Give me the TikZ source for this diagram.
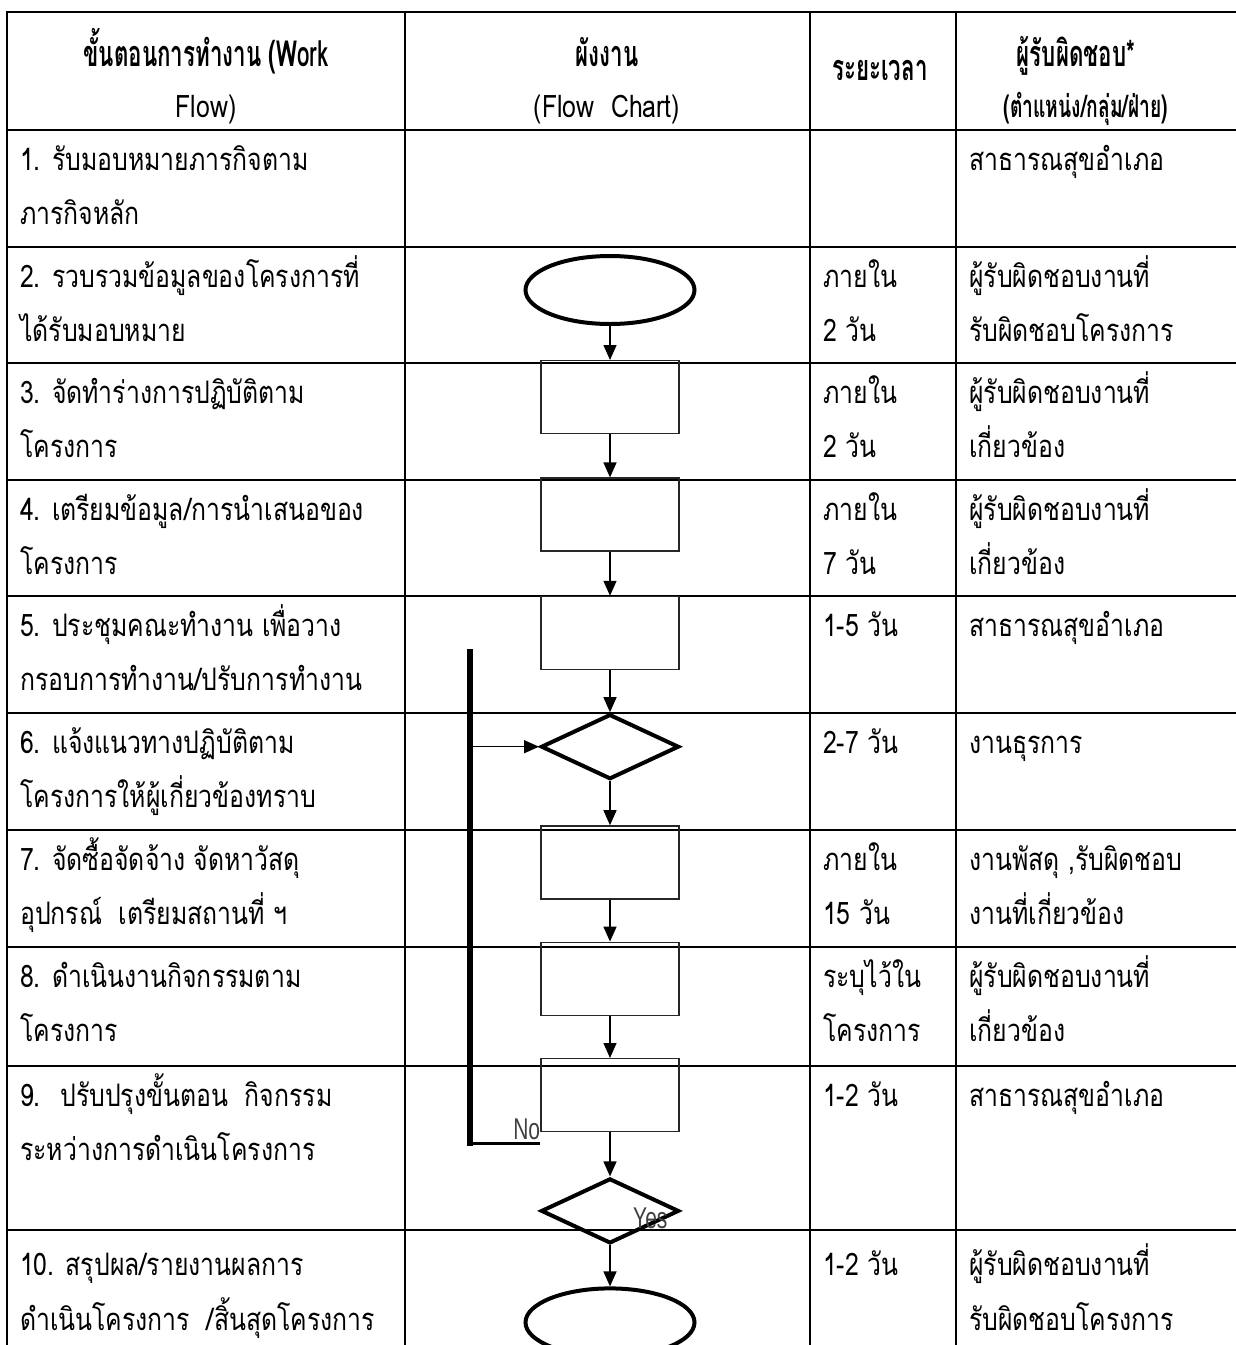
\documentclass[tikz,border=0pt]{standalone}
\usepackage{fontspec}
\newfontfamily\thaifont[Script=Thai,FakeStretch=0.8]{Loma}
\newfontfamily\thaihead[Script=Thai,FakeStretch=0.62]{Loma}
\newfontfamily\narrowsans[FakeStretch=0.7]{Liberation Sans}
\usetikzlibrary{positioning}
\usetikzlibrary{arrows.meta}
\usetikzlibrary{shapes.geometric}

\begin{document}
\begin{tikzpicture}[x=1pt, y=-1pt,
  rule/.style={line width=2.2pt, line cap=rect},
  body/.style={anchor=base west, inner sep=0pt, font=\thaifont\fontsize{31}{36}\selectfont},
  headbold/.style={anchor=base, inner sep=0pt, font=\thaihead\bfseries\fontsize{36}{40}\selectfont},
  headlight/.style={anchor=base, inner sep=0pt, font=\thaifont\fontsize{31}{36}\selectfont},
  flowbox/.style={draw=black!85, line width=1.4pt, minimum width=138pt, minimum height=73pt, inner sep=0pt},
  terminal/.style={ellipse, draw, line width=4pt, minimum width=169pt, minimum height=68pt, inner sep=0pt},
  decision/.style={diamond, draw, line width=4pt, minimum width=138pt, minimum height=65pt, inner sep=0pt},
  flowarrow/.style={line width=1.4pt, -{Triangle[length=15pt,width=13pt]}},
  loopline/.style={line width=5.5pt, line cap=rect},
  ynlabel/.style={inner sep=0pt, text=black!75, font=\narrowsans\fontsize{30}{36}\selectfont}
]
  % page size of the scan
  \useasboundingbox (0,0) rectangle (1236,1345);

  % table rules
  \foreach \y in {12,130,247,363,480,596,713,830,947,1066,1230}
    \draw[rule] (7,\y) -- (1236,\y);
  \foreach \x in {7,405,810,956}
    \draw[rule] (\x,12) -- (\x,1345);

  % header row
  \node[headbold] (h1a) at (206,66) {ขั้นตอนการทำงาน (Work};
  \node[headlight] (h1b) at (206,117) {Flow)};
  \node[headbold] (h2a) at (607,66) {ผังงาน};
  \node[headlight] (h2b) at (607,117) {(Flow~ Chart)};
  \node[headbold] (h3a) at (880,80) {ระยะเวลา};
  \node[headbold] (h4a) at (1076,66) {ผู้รับผิดชอบ*};
  \node[headbold, font=\thaihead\bfseries\fontsize{31}{36}\selectfont] (h4b) at (1086,117) {(ตำแหน่ง/กลุ่ม/ฝ่าย)};

  % column 1: work steps
  \node[body] (w1a) at (20,170) {1. รับมอบหมายภารกิจตาม};
  \node[body] (w1b) at (20,224) {ภารกิจหลัก};
  \node[body] (w2a) at (20,287) {2. รวบรวมข้อมูลของโครงการที่};
  \node[body] (w2b) at (20,341) {ได้รับมอบหมาย};
  \node[body] (w3a) at (20,403) {3. จัดทำร่างการปฏิบัติตาม};
  \node[body] (w3b) at (20,457) {โครงการ};
  \node[body] (w4a) at (20,520) {4. เตรียมข้อมูล/การนำเสนอของ};
  \node[body] (w4b) at (20,574) {โครงการ};
  \node[body] (w5a) at (20,636) {5. ประชุมคณะทำงาน เพื่อวาง};
  \node[body] (w5b) at (20,690) {กรอบการทำงาน/ปรับการทำงาน};
  \node[body] (w6a) at (20,753) {6. แจ้งแนวทางปฏิบัติตาม};
  \node[body] (w6b) at (20,807) {โครงการให้ผู้เกี่ยวข้องทราบ};
  \node[body] (w7a) at (20,870) {7. จัดซื้อจัดจ้าง จัดหาวัสดุ};
  \node[body] (w7b) at (20,924) {อุปกรณ์~ เตรียมสถานที่ ฯ};
  \node[body] (w8a) at (20,987) {8. ดำเนินงานกิจกรรมตาม};
  \node[body] (w8b) at (20,1041) {โครงการ};
  \node[body] (w9a) at (20,1106) {9.~ ปรับปรุงขั้นตอน~ กิจกรรม};
  \node[body] (w9b) at (20,1160) {ระหว่างการดำเนินโครงการ};
  \node[body] (w10a) at (20,1275) {10. สรุปผล/รายงานผลการ};
  \node[body] (w10b) at (20,1330) {ดำเนินโครงการ~ /สิ้นสุดโครงการ};

  % column 3: time
  \node[body] (t2a) at (823,287) {ภายใน};
  \node[body] (t2b) at (823,341) {2 วัน};
  \node[body] (t3a) at (823,403) {ภายใน};
  \node[body] (t3b) at (823,457) {2 วัน};
  \node[body] (t4a) at (823,520) {ภายใน};
  \node[body] (t4b) at (823,574) {7 วัน};
  \node[body] (t5a) at (823,636) {1-5 วัน};
  \node[body] (t6a) at (823,753) {2-7 วัน};
  \node[body] (t7a) at (823,870) {ภายใน};
  \node[body] (t7b) at (823,924) {15 วัน};
  \node[body] (t8a) at (823,987) {ระบุไว้ใน};
  \node[body] (t8b) at (823,1041) {โครงการ};
  \node[body] (t9a) at (823,1106) {1-2 วัน};
  \node[body] (t10a) at (823,1275) {1-2 วัน};

  % column 4: responsible
  \node[body] (r1a) at (969,170) {สาธารณสุขอำเภอ};
  \node[body] (r2a) at (969,287) {ผู้รับผิดชอบงานที่};
  \node[body] (r2b) at (969,341) {รับผิดชอบโครงการ};
  \node[body] (r3a) at (969,403) {ผู้รับผิดชอบงานที่};
  \node[body] (r3b) at (969,457) {เกี่ยวข้อง};
  \node[body] (r4a) at (969,520) {ผู้รับผิดชอบงานที่};
  \node[body] (r4b) at (969,574) {เกี่ยวข้อง};
  \node[body] (r5a) at (969,636) {สาธารณสุขอำเภอ};
  \node[body] (r6a) at (969,753) {งานธุรการ};
  \node[body] (r7a) at (969,870) {งานพัสดุ ,รับผิดชอบ};
  \node[body] (r7b) at (969,924) {งานที่เกี่ยวข้อง};
  \node[body] (r8a) at (969,987) {ผู้รับผิดชอบงานที่};
  \node[body] (r8b) at (969,1041) {เกี่ยวข้อง};
  \node[body] (r9a) at (969,1106) {สาธารณสุขอำเภอ};
  \node[body] (r10a) at (969,1275) {ผู้รับผิดชอบงานที่};
  \node[body] (r10b) at (969,1330) {รับผิดชอบโครงการ};

  % flow chart
  \node[terminal] (start) at (610,290) {};
  \node[flowbox, below=34pt of start] (b3) {};
  \node[flowbox, below=43pt of b3] (b4) {};
  \node[flowbox, below=44pt of b4] (b5) {};
  \node[decision, below=42pt of b5] (d6) {};
  \node[flowbox, below=44pt of d6] (b7) {};
  \node[flowbox, below=42pt of b7] (b8) {};
  \node[flowbox, below=42pt of b8] (b9) {};
  \node[decision, below=44pt of b9] (d9) {};
  \node[terminal, below=41pt of d9] (finish) {};

  \draw[flowarrow] (start) -- (b3);
  \draw[flowarrow] (b3) -- (b4);
  \draw[flowarrow] (b4) -- (b5);
  \draw[flowarrow] (b5) -- (d6);
  \draw[flowarrow] (d6) -- (b7);
  \draw[flowarrow] (b7) -- (b8);
  \draw[flowarrow] (b8) -- (b9);
  \draw[flowarrow] (b9) -- (d9);
  \draw[flowarrow] (d9) -- (finish);

  % the "No" loop back to step 6
  \coordinate (looptop) at (470,652);
  \coordinate (loopfoot) at (470,1143);
  \draw[loopline] (looptop) -- (loopfoot);
  \draw[line width=3pt] (loopfoot) -- (loopfoot -| b9.west);
  \draw[flowarrow] (looptop |- d6.west) -- (d6.west);

  \node[ynlabel, anchor=base east] (nolbl) at ([yshift=-7pt]b9.south west) {No};
  \node[ynlabel, anchor=base west] (yeslbl) at ([xshift=23pt,yshift=-18pt]d9.center) {Yes};
\end{tikzpicture}
\end{document}
